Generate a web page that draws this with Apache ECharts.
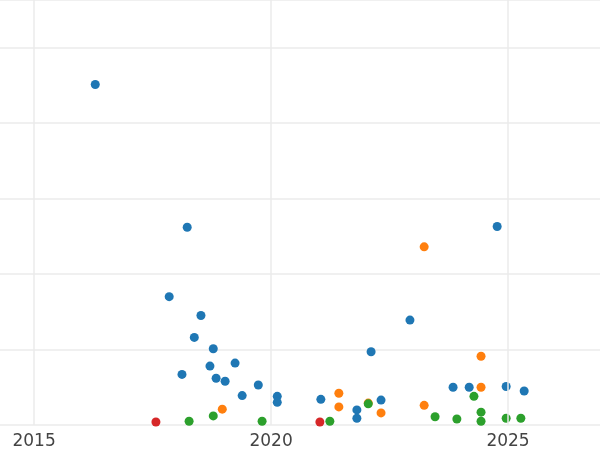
<!DOCTYPE html>
<html>
<head>
<meta charset="utf-8">
<script src="https://cdn.jsdelivr.net/npm/echarts@6/dist/echarts.min.js"></script>
<style>html,body{margin:0;padding:0;background:#fff}#chart{width:600px;height:450px}</style>
</head>
<body>
<div id="chart"></div>
<script>
// [year, value] pairs
const blueData = [
  [2016.29, 4.51], [2018.23, 2.62], [2017.85, 1.70], [2018.52, 1.45], [2018.38, 1.16],
  [2018.78, 1.01], [2018.12, 0.67], [2018.71, 0.78], [2019.24, 0.82], [2018.84, 0.62],
  [2019.03, 0.58], [2019.73, 0.53], [2019.39, 0.39], [2020.13, 0.38], [2020.13, 0.30],
  [2021.05, 0.34], [2021.81, 0.20], [2021.81, 0.09], [2022.11, 0.97], [2022.32, 0.33],
  [2022.93, 1.39], [2023.84, 0.50], [2024.18, 0.50], [2024.77, 2.63], [2024.96, 0.51],
  [2025.34, 0.45]
];
const orangeData = [
  [2023.23, 2.36], [2024.43, 0.91], [2024.43, 0.50], [2023.23, 0.26], [2021.43, 0.42],
  [2021.43, 0.24], [2022.05, 0.29], [2022.32, 0.16], [2018.97, 0.21]
];
const greenData = [
  [2018.27, 0.05], [2018.78, 0.12], [2019.81, 0.05], [2021.24, 0.05], [2022.05, 0.28],
  [2023.46, 0.11], [2023.92, 0.08], [2024.28, 0.38], [2024.43, 0.17], [2024.43, 0.05],
  [2024.96, 0.09], [2025.27, 0.09]
];
const redData = [[2017.57, 0.04], [2021.03, 0.04]];
const xTicks = [2015, 2020, 2025];

const chart = echarts.init(document.getElementById('chart'));

function series(data, color) {
  return {
    type: 'scatter',
    data: data,
    symbolSize: 9,
    itemStyle: { color: color, opacity: 1 }
  };
}

const s = [
  series(blueData, '#1f77b4'),
  series(orangeData, '#ff7f0e'),
  series(greenData, '#2ca02c'),
  series(redData, '#d62728')
];
// vertical gridlines at the year ticks
s[0].markLine = {
  silent: true,
  symbol: 'none',
  label: { show: false },
  lineStyle: { color: '#ebebeb', width: 1.5, type: 'solid' },
  data: xTicks.map(v => ({ xAxis: v }))
};
s[0].z = 3;

chart.setOption({
  animation: false,
  grid: { left: 0, right: 0, top: 0, bottom: 22, containLabel: false },
  xAxis: {
    type: 'value',
    min: 2014.28, max: 2026.94,
    axisLine: { show: false },
    axisTick: { show: false },
    axisLabel: {
      customValues: xTicks,
      color: '#444', fontSize: 17, fontFamily: 'DejaVu Sans', margin: 8,
      formatter: v => String(v)
    },
    splitLine: { show: false }
  },
  yAxis: {
    type: 'value',
    min: 0, max: 5.63, interval: 1,
    axisLine: { show: false },
    axisTick: { show: false },
    axisLabel: { show: false },
    splitLine: { lineStyle: { color: '#ebebeb', width: 1.5 } }
  },
  series: s
});
</script>
</body>
</html>
